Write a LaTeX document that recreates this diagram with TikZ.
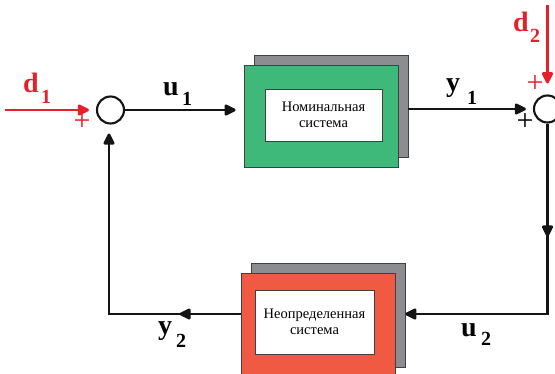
\documentclass[tikz,border=0pt]{standalone}
\usepackage{fontspec}
\setmainfont{Liberation Serif}
\usetikzlibrary{arrows.meta,decorations.markings,calc}
\definecolor{blkgreen}{RGB}{62,185,122}
\definecolor{blkred}{RGB}{240,90,66}
\definecolor{shadowgray}{RGB}{140,141,145}
\definecolor{sigred}{RGB}{232,30,40}
\begin{document}
\begin{tikzpicture}[x=1pt,y=-1pt,
  wire/.style={line width=2.8pt, draw=black!92},
  sig/.style={line width=2.6pt, draw=sigred},
  tip/.style={-{Triangle[length=13pt,width=12pt,round]}},
  midarrow/.style={postaction={decorate}, decoration={markings,
      mark=at position #1 with {\arrow{Triangle[length=13pt,width=12pt,round]}}}},
  sumnode/.style={circle, draw=black!92, line width=2.1pt, minimum size=27pt, inner sep=0pt},
  shadowbox/.style={draw=black!75, line width=0.8pt, fill=shadowgray, minimum width=154pt, inner sep=0pt},
  frontbox/.style={draw=black!75, line width=0.8pt, minimum width=154pt, inner sep=0pt},
  innerbox/.style={draw=black!75, line width=0.8pt, fill=white, inner sep=0pt, align=center,
      font=\fontsize{14.5}{16.5}\selectfont},
  lbl/.style={anchor=base west, inner sep=0pt, font=\bfseries\fontsize{28}{28}\selectfont},
  sub/.style={anchor=base west, inner sep=0pt, font=\bfseries\fontsize{20}{20}\selectfont},
  plus/.style={inner sep=0pt, font=\fontsize{30}{30}\selectfont}
]
\useasboundingbox (0,0) rectangle (555,374);

% blocks
\node[shadowbox, minimum height=102pt] (gshadow) at (331,106) {};
\node[frontbox, fill=blkgreen, minimum height=102pt] (gfront) at (321,116) {};
\node[innerbox, minimum width=117pt, minimum height=52pt] (ginner) at (323.5,115) {Номинальная\\система};

\node[shadowbox, minimum height=104pt] (rshadow) at (328,315) {};
\node[frontbox, fill=blkred, minimum height=104pt] (rfront) at (318,325) {};
\node[innerbox, minimum width=119pt, minimum height=64pt] (rinner) at (314.5,322) {Неопределенная\\система};

% summing junctions
\node[sumnode] (sumL) at (110.5,110) {};
\node[sumnode] (sumR) at (547.5,109) {};

% coordinates
\coordinate (d1s) at (5,110);
\coordinate (d2s) at (547.5,5);
\coordinate (cBR) at (547.5,314);
\coordinate (cBL) at (109,314);

% connectors
\draw[sig, tip, shorten >=7pt] (d1s) -- (sumL.west);
\draw[sig, tip, shorten >=11pt] (d2s) -- (sumR.north);
\draw[wire, tip, shorten >=8pt] (sumL.east) -- (gfront.west |- sumL.east);
\draw[wire, tip, shorten >=7pt] (gshadow.east |- sumR.west) -- (sumR.west);
\draw[wire, tip, line join=miter, midarrow=113pt] (sumR.south) -- (cBR) -- (rshadow.east |- cBR);
\draw[wire, tip, line join=miter, midarrow=61pt, shorten >=9pt] (rfront.west |- cBL) -- (cBL) -- (cBL |- sumL.south);

% labels
\node[lbl, text=sigred] (d1) at (23,93) {d};
\node[sub, text=sigred] (d1s1) at (41,104) {1};
\node[lbl, text=sigred] (d2) at (513,32) {d};
\node[sub, text=sigred] (d2s2) at (530,43) {2};
\node[lbl] (u1) at (163,96) {u};
\node[sub] (u1s) at (182,106) {1};
\node[lbl] (y1) at (446,92) {y};
\node[sub] (y1s) at (467,105) {1};
\node[lbl] (y2) at (158,335) {y};
\node[sub] (y2s) at (176,348) {2};
\node[lbl] (u2) at (461,337) {u};
\node[sub] (u2s) at (481,346) {2};

\node[plus, text=sigred] (p1) at (82,122) {+};
\node[plus, text=sigred] (p2) at (535,84) {+};
\node[plus] (p3) at (525,122) {+};
\end{tikzpicture}
\end{document}
